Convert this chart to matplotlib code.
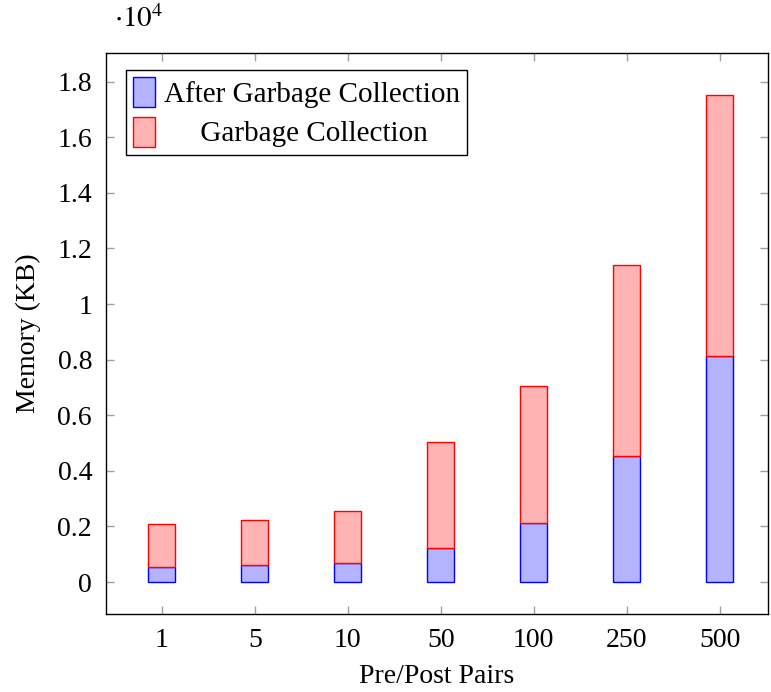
import matplotlib
matplotlib.use("Agg")
import matplotlib.pyplot as plt
from matplotlib.ticker import FuncFormatter, MultipleLocator
import numpy as np

pairs = ["1", "5", "10", "50", "100", "250", "500"]
after_gc = [540, 600, 670, 1235, 2140, 4550, 8140]
gc = [1550, 1630, 1900, 3805, 4910, 6840, 9370]

plt.rcParams["font.family"] = ["Liberation Serif", "DejaVu Serif"]
plt.rcParams["font.size"] = 20
plt.rcParams["mathtext.fontset"] = "stix"

fig = plt.figure(figsize=(7.71, 6.92), dpi=100)
ax = fig.add_axes([106 / 771, 1 - 614 / 692, (768 - 106) / 771, (614 - 53) / 692])

x = np.arange(len(pairs))
w = 0.29
ax.bar(x, after_gc, w, color="#b3b3ff", edgecolor="blue", linewidth=1,
       label="After Garbage Collection")
ax.bar(x, gc, w, bottom=after_gc, color="#ffb3b3", edgecolor="red", linewidth=1,
       label="     Garbage Collection")

ax.set_xlim(-0.6, 6.52)
ax.set_ylim(-1150, 19030)
ax.set_xticks(x)
ax.set_xticklabels(pairs)
ax.yaxis.set_major_locator(MultipleLocator(2000))
ax.yaxis.set_major_formatter(FuncFormatter(lambda v, p: f"{v / 1e4:g}"))
ax.tick_params(direction="in", length=6, color="#a0a0a0", width=1,
               top=True, right=True, pad=10)
for s in ax.spines.values():
    s.set_linewidth(1)

ax.set_xlabel("Pre/Post Pairs", labelpad=8)
ax.set_ylabel("Memory (KB)", labelpad=12)
ax.text(0.012, 1.035, r"$\cdot 10^4$", transform=ax.transAxes, fontsize=21,
        ha="left", va="bottom")

leg = ax.legend(loc="upper left", bbox_to_anchor=(0.03, 0.97), fancybox=False,
                edgecolor="black", framealpha=1, handlelength=0.75, handleheight=1.2,
                handletextpad=0.3, borderpad=0.25, labelspacing=0.3, fontsize=21,
                borderaxespad=0)
leg.get_frame().set_linewidth(1)

fig.savefig("out.png", dpi=100)
